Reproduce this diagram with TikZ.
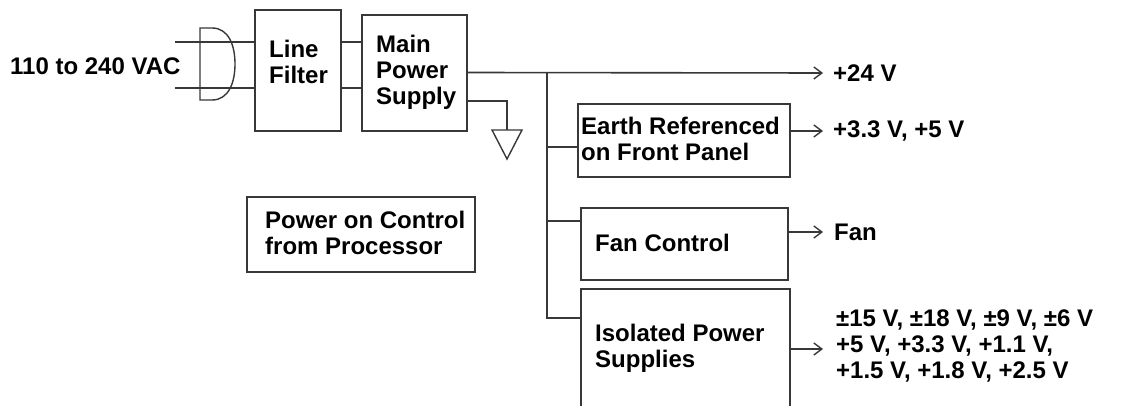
\documentclass[tikz,border=0pt]{standalone}
\usepackage{fontspec}
\setmainfont{Liberation Sans}
\usetikzlibrary{arrows.meta}
\begin{document}
\begin{tikzpicture}[x=1pt,y=-1pt,
  ln/.style={line width=1.6pt, draw=black!78},
  blk/.style={ln, rectangle, inner sep=0pt, anchor=north west},
  lbl/.style={anchor=west, align=left, inner sep=0pt, font=\fontsize{24}{26}\selectfont\bfseries},
  arr/.style={ln, -{Straight Barb[length=8pt,width=12pt,line width=1.4pt]}}]
\useasboundingbox (0,0) rectangle (1123,406);
% boxes
\node[blk, minimum width=86pt, minimum height=121pt] (lf) at (254,9) {};
\node[blk, minimum width=105pt, minimum height=116pt] (mps) at (361,14) {};
\node[blk, minimum width=212pt, minimum height=73pt] (erf) at (577,103) {};
\node[blk, minimum width=207pt, minimum height=72pt] (fan) at (580,207) {};
\node[blk, minimum width=209pt, minimum height=122pt] (iso) at (580,288) {};
\node[blk, minimum width=228pt, minimum height=75pt] (poc) at (246,196) {};
% labels
\node[lbl] (tin) at (10,66) {110 to 240 VAC};
\node[lbl] (tlf) at (269,62) {Line\\Filter};
\node[lbl] (tmps) at (376,72) {Main\\Power\\Supply};
\node[lbl] (terf) at (581,139) {Earth Referenced\\on Front Panel};
\node[lbl] (tfan) at (595,243) {Fan Control};
\node[lbl] (tiso) at (595,348) {Isolated Power\\Supplies};
\node[lbl] (tpoc) at (265,233) {Power on Control\\from Processor};
\node[lbl] (o24) at (833,73) {+24 V};
\node[lbl] (o33) at (833,131) {+3.3 V, +5 V};
\node[lbl] (ofan) at (834,232) {Fan};
\node[lbl] (oiso) at (836,346) {±15 V, ±18 V, ±9 V, ±6 V\\+5 V, +3.3 V, +1.1 V,\\+1.5 V, +1.8 V, +2.5 V};
% input plug
\coordinate (in1) at (175,42);
\coordinate (in2) at (175,88);
\draw[ln, line width=1.4pt] (200,28) -- (212,28) .. controls (229,28) and (235,46) .. (235,64)
  .. controls (235,82) and (229,100) .. (212,100) -- (200,100) -- cycle;
\draw[ln] (in1) -- (in1 -| lf.west);
\draw[ln] (in2) -- (in2 -| lf.west);
% line filter to main power supply
\draw[ln] (lf.east |- in1) -- (mps.west |- in1);
\draw[ln] (lf.east |- in2) -- (mps.west |- in2);
% main outputs
\coordinate (m1) at (466,72.5);
\coordinate (bus) at (547,72.5);
\coordinate (busend) at (547,319);
\draw[arr] (m1 -| mps.east) -- (o24.west -| 823,0);
\draw[ln] (bus) -- (busend);
% ground
\coordinate (g1) at (466,101);
\coordinate (g2) at (507,101);
\coordinate (g3) at (507,130);
\draw[ln] (g1 -| mps.east) -- (g2) -- (g3);
\draw[ln, line width=1.4pt] (492,130) -- (522,130) -- (507,159) -- cycle;
% branches
\draw[ln] (547,147) -- (erf.west |- 0,147);
\draw[ln] (547,221) -- (fan.west |- 0,221);
\draw[ln] (547,318) -- (iso.west |- 0,318);
% outputs
\draw[arr] (erf.east |- 0,131) -- (823,131);
\draw[arr] (fan.east |- 0,232) -- (823,232);
\draw[arr] (iso.east |- 0,349) -- (823,349);
\end{tikzpicture}
\end{document}
